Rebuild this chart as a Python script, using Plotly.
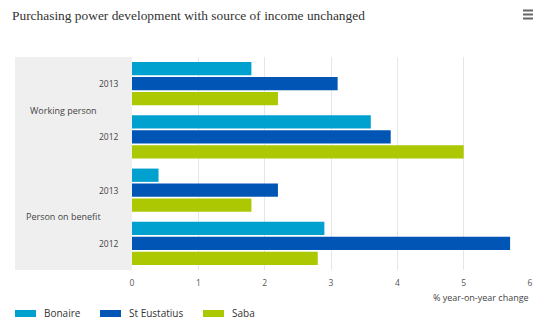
import plotly.graph_objects as go

groups = ["Working person", "Working person", "Person on benefit", "Person on benefit"]
years = ["2013", "2012", "2013", "2012"]
series_names = ["Bonaire", "St Eustatius", "Saba"]
bonaire = [1.8, 3.6, 0.4, 2.9]
st_eustatius = [3.1, 3.9, 2.2, 5.7]
saba = [2.2, 5.0, 1.8, 2.8]
x_ticks = [0, 1, 2, 3, 4, 5, 6]
colors = ["#00a0cf", "#0055b5", "#abc802"]

W, H = 549, 330
ML, MR, MT, MB = 132, 19, 57, 60
pw = W - ML - MR
ph = H - MT - MB

def px_x(px):
    return (px - ML) / pw

def px_y(py):
    return 1 - (py - MT) / ph

fig = go.Figure()
ypos = list(range(len(years)))
for name, vals, c in zip(series_names, [bonaire, st_eustatius, saba], colors):
    fig.add_trace(go.Bar(y=ypos, x=vals, orientation="h", name=name,
                         marker=dict(color=c, line=dict(width=0)), showlegend=False))

fig.update_layout(
    width=W, height=H,
    margin=dict(l=ML, r=MR, t=MT, b=MB),
    paper_bgcolor="white", plot_bgcolor="white",
    barmode="group", bargap=0.16, bargroupgap=0.11,
    font=dict(family="Open Sans", color="#555555", size=9),
    xaxis=dict(range=[0, 6], tickvals=x_ticks, showgrid=True, gridcolor="#e6e6e6",
               gridwidth=1, zeroline=False, showline=False, ticks="",
               ticklabelstandoff=6,
               tickfont=dict(size=8.5, color="#555555"), fixedrange=True),
    yaxis=dict(range=[3.5, -0.5], showticklabels=False, showgrid=False,
               zeroline=False, showline=False, fixedrange=True),
)

shapes = [dict(type="rect", xref="paper", yref="paper", x0=px_x(15), x1=0, y0=0, y1=1,
               fillcolor="#efefef", line=dict(width=0), layer="below")]
# menu icon
for yy in [10.5, 14.5, 18.5]:
    shapes.append(dict(type="rect", xref="paper", yref="paper", x0=px_x(523), x1=px_x(533),
                       y0=px_y(yy + 1), y1=px_y(yy - 1), fillcolor="#666666", line=dict(width=0)))
ann = []
ann.append(dict(text="Purchasing power development with source of income unchanged",
                xref="paper", yref="paper", x=px_x(10), y=px_y(15), xanchor="left",
                yanchor="middle", showarrow=False,
                font=dict(family="Liberation Serif", size=13.4, color="#333333")))
for i, yr in enumerate(years):
    ann.append(dict(text=yr, xref="paper", yref="y", x=px_x(121), y=i, xanchor="right",
                    yanchor="middle", showarrow=False, font=dict(size=8.5, color="#444444")))
seen = []
for i, g in enumerate(groups):
    if g in seen:
        continue
    seen.append(g)
    idx = [j for j, gg in enumerate(groups) if gg == g]
    ymid = sum(idx) / len(idx)
    ann.append(dict(text=g, xref="paper", yref="y", x=px_x(63), y=ymid, xanchor="center",
                    yanchor="middle", showarrow=False, font=dict(size=9, color="#444444")))
ann.append(dict(text="% year-on-year change", xref="paper", yref="paper", x=px_x(531),
                y=px_y(297), xanchor="right", yanchor="middle", showarrow=False,
                font=dict(size=9, color="#444444")))

leg_x = [15, 100, 203]
for name, c, lx in zip(series_names, colors, leg_x):
    shapes.append(dict(type="rect", xref="paper", yref="paper", x0=px_x(lx), x1=px_x(lx + 21),
                       y0=px_y(317), y1=px_y(310), fillcolor=c, line=dict(width=0)))
    ann.append(dict(text=name, xref="paper", yref="paper", x=px_x(lx + 27), y=px_y(313),
                    xanchor="left", yanchor="middle", showarrow=False,
                    font=dict(size=10, color="#333333")))

fig.update_layout(shapes=shapes, annotations=ann)
fig.write_html("out.html", config={"displayModeBar": False})
